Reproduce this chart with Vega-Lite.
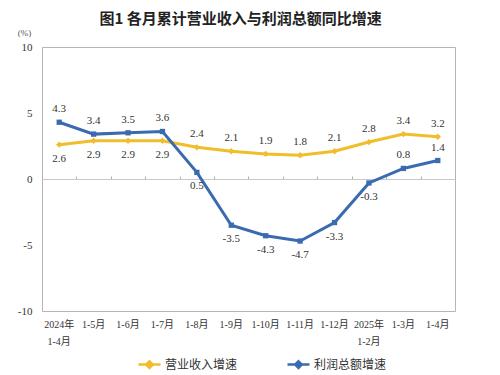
{
  "$schema": "https://vega.github.io/schema/vega-lite/v6.json",
  "width": 413,
  "height": 264,
  "autosize": "none",
  "padding": {"left": 42, "top": 47, "right": 45, "bottom": 64},
  "title": {
    "text": "图1 各月累计营业收入与利润总额同比增速",
    "font": "Noto Sans CJK SC",
    "fontSize": 15,
    "fontWeight": "bold",
    "color": "#222222",
    "anchor": "middle",
    "dx": -8,
    "offset": 1
  },
  "config": {
    "view": {"stroke": "#b5b5b5", "strokeWidth": 1},
    "font": "Liberation Serif"
  },
  "data": {
    "values": [
      {"month": "2024年 1-4月", "series": "营业收入增速", "value": 2.6},
      {"month": "1-5月", "series": "营业收入增速", "value": 2.9},
      {"month": "1-6月", "series": "营业收入增速", "value": 2.9},
      {"month": "1-7月", "series": "营业收入增速", "value": 2.9},
      {"month": "1-8月", "series": "营业收入增速", "value": 2.4},
      {"month": "1-9月", "series": "营业收入增速", "value": 2.1},
      {"month": "1-10月", "series": "营业收入增速", "value": 1.9},
      {"month": "1-11月", "series": "营业收入增速", "value": 1.8},
      {"month": "1-12月", "series": "营业收入增速", "value": 2.1},
      {"month": "2025年 1-2月", "series": "营业收入增速", "value": 2.8},
      {"month": "1-3月", "series": "营业收入增速", "value": 3.4},
      {"month": "1-4月", "series": "营业收入增速", "value": 3.2},
      {"month": "2024年 1-4月", "series": "利润总额增速", "value": 4.3},
      {"month": "1-5月", "series": "利润总额增速", "value": 3.4},
      {"month": "1-6月", "series": "利润总额增速", "value": 3.5},
      {"month": "1-7月", "series": "利润总额增速", "value": 3.6},
      {"month": "1-8月", "series": "利润总额增速", "value": 0.5},
      {"month": "1-9月", "series": "利润总额增速", "value": -3.5},
      {"month": "1-10月", "series": "利润总额增速", "value": -4.3},
      {"month": "1-11月", "series": "利润总额增速", "value": -4.7},
      {"month": "1-12月", "series": "利润总额增速", "value": -3.3},
      {"month": "2025年 1-2月", "series": "利润总额增速", "value": -0.3},
      {"month": "1-3月", "series": "利润总额增速", "value": 0.8},
      {"month": "1-4月", "series": "利润总额增速", "value": 1.4}
    ]
  },
  "encoding": {
    "x": {
      "field": "month",
      "type": "nominal",
      "scale": {
        "type": "band",
        "paddingInner": 0,
        "paddingOuter": 0,
        "domain": ["2024年 1-4月", "1-5月", "1-6月", "1-7月", "1-8月", "1-9月", "1-10月", "1-11月", "1-12月", "2025年 1-2月", "1-3月", "1-4月"]
      },
      "axis": null
    },
    "y": {
      "field": "value",
      "type": "quantitative",
      "scale": {"domain": [-10, 10], "nice": false, "zero": false},
      "axis": {
        "orient": "left",
        "values": [-10, -5, 0, 5, 10],
        "grid": false,
        "domain": false,
        "ticks": false,
        "labelPadding": 10,
        "labelFont": "Liberation Serif",
        "labelFontSize": 11,
        "labelColor": "#333333",
        "labelExpr": "toString(datum.value)",
        "title": "(%)",
        "titleAngle": 0,
        "titleFont": "Liberation Serif",
        "titleFontSize": 9,
        "titleFontWeight": "normal",
        "titleColor": "#555555",
        "titleX": -18,
        "titleY": -10,
        "titleAlign": "center"
      }
    }
  },
  "layer": [
    {
      "mark": {"type": "line", "strokeWidth": 3},
      "encoding": {
        "x": {
          "field": "month",
          "type": "nominal",
          "axis": {
            "orient": "bottom",
            "title": null,
            "domain": false,
            "ticks": false,
            "labelAngle": 0,
            "labelPadding": 8,
            "labelFont": "Liberation Serif, Noto Sans CJK SC",
            "labelFontSize": 10,
            "labelColor": "#333333",
            "labelLineHeight": 17,
            "labelExpr": "split(datum.label, ' ')"
          }
        },
        "color": {
          "field": "series",
          "type": "nominal",
          "scale": {"domain": ["营业收入增速", "利润总额增速"], "range": ["#F0BE2A", "#3A6BB0"]},
          "legend": {
            "orient": "none",
            "legendX": 95,
            "legendY": 305,
            "direction": "horizontal",
            "title": null,
            "columnPadding": 44,
            "symbolSize": 484,
            "symbolStrokeWidth": 2.5,
            "symbolType": "M-1,0H1M0,-0.3L0.3,0L0,0.3L-0.3,0Z",
            "labelFont": "Liberation Serif, Noto Sans CJK SC",
            "labelFontSize": 12,
            "labelColor": "#333333",
            "labelOffset": 3,
            "encode": {
              "symbols": {
                "update": {
                  "fill": {"signal": "scale('color', datum.value)"}
                }
              }
            }
          }
        }
      }
    },
    {
      "mark": {"type": "rule", "strokeWidth": 0},
      "encoding": {
        "x": {
          "field": "month",
          "type": "nominal",
          "axis": {
            "orient": "top",
            "offset": -132,
            "title": null,
            "labels": false,
            "domain": true,
            "domainColor": "#c8c8c8",
            "domainWidth": 1,
            "ticks": true,
            "tickBand": "extent",
            "tickColor": "#b0b0b0",
            "tickSize": 3
          }
        }
      }
    },
    {
      "transform": [{"filter": "datum.series == '营业收入增速'"}],
      "mark": {"type": "point", "shape": "diamond", "filled": true, "size": 40, "opacity": 1, "color": "#F0BE2A"}
    },
    {
      "transform": [{"filter": "datum.series == '利润总额增速'"}],
      "mark": {"type": "point", "shape": "square", "filled": true, "size": 28, "opacity": 1, "color": "#3A6BB0"}
    },
    {
      "transform": [{"filter": "(datum.series == '营业收入增速' && indexof(['2024年 1-4月','1-5月','1-6月','1-7月'], datum.month) < 0) || (datum.series == '利润总额增速' && indexof(['2024年 1-4月','1-5月','1-6月','1-7月','1-3月','1-4月'], datum.month) >= 0)"}],
      "mark": {"type": "text", "baseline": "middle", "dy": -13, "font": "Liberation Serif", "fontSize": 11, "color": "#333333"},
      "encoding": {"text": {"field": "value", "type": "nominal"}}
    },
    {
      "transform": [{"filter": "!((datum.series == '营业收入增速' && indexof(['2024年 1-4月','1-5月','1-6月','1-7月'], datum.month) < 0) || (datum.series == '利润总额增速' && indexof(['2024年 1-4月','1-5月','1-6月','1-7月','1-3月','1-4月'], datum.month) >= 0))"}],
      "mark": {"type": "text", "baseline": "middle", "dy": 14, "font": "Liberation Serif", "fontSize": 11, "color": "#333333"},
      "encoding": {"text": {"field": "value", "type": "nominal"}}
    }
  ],
  "resolve": {"axis": {"x": "independent"}}
}
